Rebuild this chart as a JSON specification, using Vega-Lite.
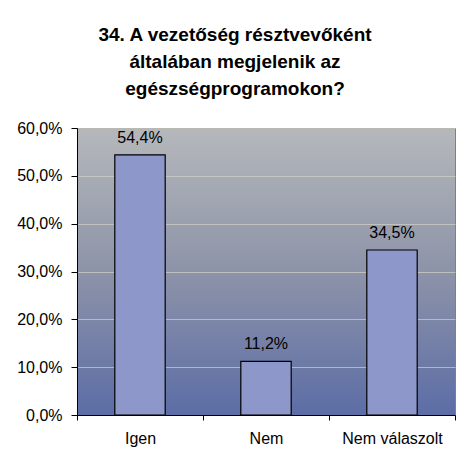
{
  "$schema": "https://vega.github.io/schema/vega-lite/v6.json",
  "width": 378,
  "height": 287,
  "autosize": {"type": "none"},
  "padding": {"left": 77, "top": 128, "right": 5, "bottom": 35},
  "background": "white",
  "title": {
    "text": ["34. A vezetőség résztvevőként", "általában megjelenik az", "egészségprogramokon?"],
    "anchor": "middle",
    "frame": "group",
    "dx": -31,
    "offset": 21,
    "font": "Liberation Sans",
    "fontSize": 19,
    "fontWeight": "bold",
    "lineHeight": 27,
    "color": "#000000"
  },
  "data": {
    "values": [
      {"valasz": "Igen", "arany": 0.544},
      {"valasz": "Nem", "arany": 0.112},
      {"valasz": "Nem válaszolt", "arany": 0.345}
    ]
  },
  "encoding": {
    "x": {
      "field": "valasz",
      "type": "nominal",
      "sort": null,
      "scale": {"paddingInner": 0, "paddingOuter": 0},
      "axis": {
        "title": null,
        "labelAngle": 0,
        "tickBand": "extent",
        "labelFont": "Liberation Sans",
        "labelFontSize": 16,
        "labelColor": "#000000",
        "labelPadding": 10,
        "tickSize": 5,
        "tickColor": "#000000",
        "domainColor": "#000000",
        "grid": false
      }
    },
    "y": {
      "field": "arany",
      "type": "quantitative",
      "scale": {"domain": [0, 0.6], "nice": false},
      "axis": {
        "title": null,
        "format": ".1%",
        "values": [0, 0.1, 0.2, 0.3, 0.4, 0.5, 0.6],
        "labelFont": "Liberation Sans",
        "labelFontSize": 16,
        "labelColor": "#000000",
        "labelPadding": 9,
        "tickSize": 6,
        "tickColor": "#000000",
        "domainColor": "#000000",
        "grid": true,
        "gridColor": "#D2D2C6",
        "gridOpacity": 0.7
      }
    }
  },
  "layer": [
    {
      "mark": {"type": "bar", "width": {"band": 0.4}, "fill": "#8D97CA", "stroke": "#000000", "strokeWidth": 1.2}
    },
    {
      "mark": {"type": "text", "baseline": "alphabetic", "dy": -12, "font": "Liberation Sans", "fontSize": 16, "color": "#000000"},
      "encoding": {"text": {"field": "arany", "type": "quantitative", "format": ".1%"}}
    }
  ],
  "config": {
    "locale": {"number": {"decimal": ",", "thousands": " ", "grouping": [3], "currency": ["", " Ft"]}},
    "view": {
      "fill": {"gradient": "linear", "x1": 0, "y1": 0, "x2": 0, "y2": 1, "stops": [
        {"offset": 0, "color": "#B5B8BB"},
        {"offset": 0.5, "color": "#8D93A8"},
        {"offset": 1, "color": "#5C6DA6"}
      ]},
      "stroke": "#7F8080",
      "strokeWidth": 1
    },
    "axis": {"domainWidth": 1, "tickWidth": 1}
  }
}
